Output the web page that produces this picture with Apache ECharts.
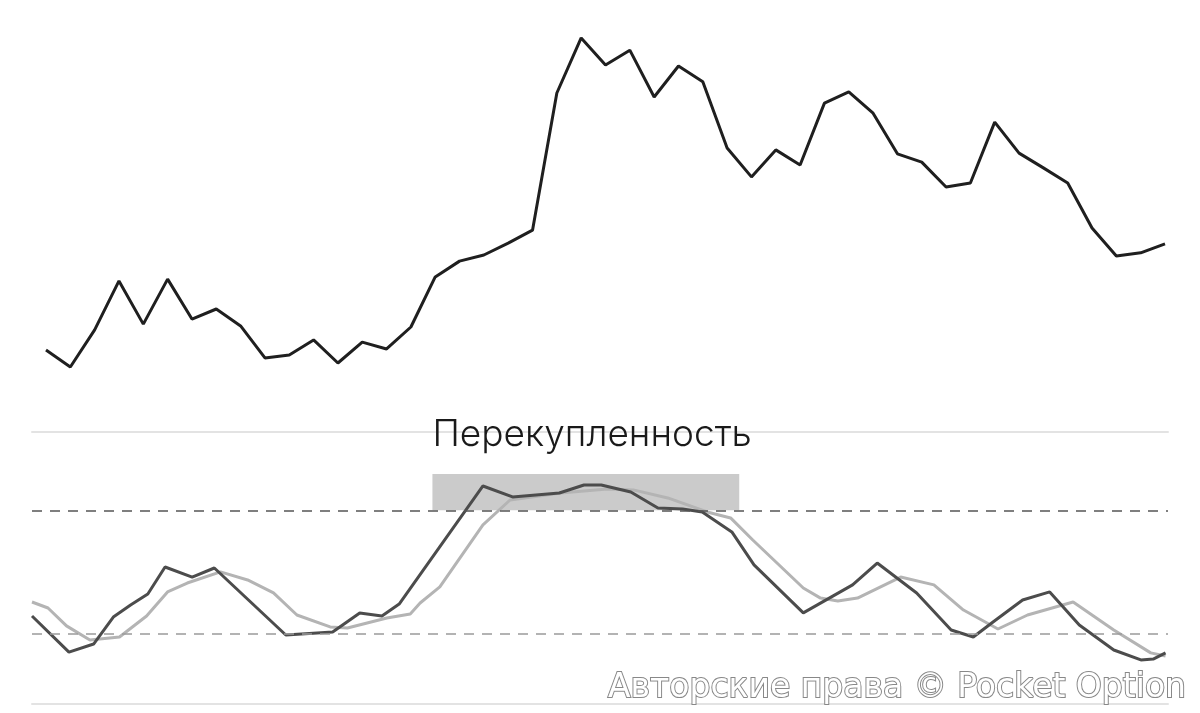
<!DOCTYPE html>
<html>
<head>
<meta charset="utf-8">
<script src="https://cdn.jsdelivr.net/npm/echarts@6/dist/echarts.min.js"></script>
<style>html,body{margin:0;padding:0;background:#fff}#c{width:1200px;height:713px}</style>
</head>
<body>
<div id="c"></div>
<script>
// Price (arbitrary units), one value per bar
const priceBars = Array.from({length: 47}, (_, i) => i);
const priceValues = [11.1, 6.4, 16.7, 30.3, 18.3, 30.8, 19.7, 22.5, 17.8, 8.9, 9.7, 13.9, 7.5, 13.3, 11.4, 17.5,
  31.4, 35.8, 37.5, 40.8, 44.4, 82.5, 97.8, 90.3, 94.4, 81.4, 90.0, 85.6, 67.2, 59.2, 66.7, 62.5,
  79.7, 82.8, 76.9, 65.6, 63.3, 56.4, 57.5, 74.4, 65.8, 61.7, 57.5, 45.0, 37.2, 38.1, 40.6];

// Stochastic %K (dark) — time in bars, value
const kTime = [0, 1.5, 2.5, 3.3, 4, 4.7, 5.4, 6.5, 7.4, 10.3, 12.2, 13.3, 14.2, 14.9, 18.3, 19.5, 21.4, 22.4, 23.1,
  24.3, 25.4, 26.4, 27.2, 28.4, 29.3, 31.3, 33.3, 34.3, 35.9, 37.3, 38.2, 39, 40.2, 41.3, 42.5, 43.9, 45, 45.5, 46];
const kValues = [28.7, 11.2, 15.1, 28.2, 34.0, 39.4, 52.5, 47.6, 52.0, 19.5, 20.9, 30.2, 28.7, 34.5, 91.8, 86.5, 88.4,
  92.3, 92.3, 88.9, 81.1, 80.6, 79.2, 69.5, 53.5, 30.2, 43.8, 54.4, 39.9, 21.9, 18.5, 25.8, 36.5, 40.4, 24.3, 12.2,
  7.4, 7.8, 10.8];

// Stochastic %D (light)
const dTime = [0, 0.65, 1.4, 2.35, 3.55, 4.65, 5.5, 6.3, 7.65, 8.75, 9.8, 10.75, 12.1, 12.8, 13.6, 14.4, 15.35, 15.75,
  16.55, 18.3, 19.4, 21.45, 23.35, 24.4, 25.8, 27.4, 28.35, 29.25, 31.3, 32, 32.7, 33.5, 35.25, 36.6, 37.8, 39.2,
  40.4, 42.25, 43.9, 45.4, 46];
const dValues = [35.5, 32.6, 23.9, 17.1, 18.5, 28.7, 40.4, 44.7, 50.1, 46.2, 39.9, 29.2, 23.4, 22.9, 25.3, 27.7, 29.7,
  35.0, 42.8, 72.9, 85.0, 88.4, 90.3, 89.9, 86.0, 79.2, 76.3, 65.6, 42.3, 37.4, 36.0, 37.4, 47.6, 43.8, 31.6, 22.4,
  29.2, 35.5, 21.9, 10.8, 9.3];

const overbought = 80;
const oversold = 20;
const zoneLabel = 'Перекупленность';
const zoneStart = 16.25, zoneEnd = 28.7, zoneTop = 97.6;
const watermark = 'Авторские права © Pocket Option';

const chart = echarts.init(document.getElementById('c'), null, {renderer: 'canvas'});
const frameAxis = (pos) => ({
  gridIndex: 1, type: 'value', min: 0, max: 46.1, position: pos,
  axisLine: {show: true, onZero: false, lineStyle: {color: '#e3e3e3', width: 2}},
  axisTick: {show: false}, axisLabel: {show: false}, splitLine: {show: false}
});
chart.setOption({
  animation: false,
  backgroundColor: '#ffffff',
  grid: [
    {left: 46, right: 35, top: 30, height: 360},
    {left: 32, right: 32, top: 432, height: 272}
  ],
  xAxis: [
    {gridIndex: 0, type: 'category', data: priceBars, boundaryGap: false, show: false},
    frameAxis('bottom'),
    frameAxis('top')
  ],
  yAxis: [
    {gridIndex: 0, type: 'value', min: 0, max: 100, show: false},
    {gridIndex: 1, type: 'value', min: -14, max: 118, show: false}
  ],
  series: [
    {
      type: 'line', xAxisIndex: 0, yAxisIndex: 0, data: priceValues,
      symbol: 'none', lineStyle: {color: '#1f1f1f', width: 3}, z: 3
    },
    {
      type: 'line', xAxisIndex: 1, yAxisIndex: 1, data: [], symbol: 'none', z: 1,
      markArea: {
        silent: true,
        itemStyle: {color: '#cbcbcb'},
        label: {
          show: true, position: [0, -58], formatter: zoneLabel,
          fontFamily: 'Inter', fontWeight: 300, fontSize: 37, color: '#1a1a1a'
        },
        data: [[{xAxis: zoneStart, yAxis: overbought}, {xAxis: zoneEnd, yAxis: zoneTop}]]
      },
      markLine: {
        silent: true, symbol: 'none', label: {show: false},
        data: [
          {yAxis: overbought, lineStyle: {color: '#555555', width: 1.6, type: [10, 8]}},
          {yAxis: oversold, lineStyle: {color: '#9a9a9a', width: 1.6, type: [10, 8]}}
        ]
      }
    },
    {
      type: 'line', xAxisIndex: 1, yAxisIndex: 1,
      data: dTime.map((t, i) => [t, dValues[i]]),
      symbol: 'none', lineStyle: {color: '#b4b4b4', width: 3}, z: 2
    },
    {
      type: 'line', xAxisIndex: 1, yAxisIndex: 1,
      data: kTime.map((t, i) => [t, kValues[i]]),
      symbol: 'none', lineStyle: {color: '#4c4c4c', width: 3}, z: 3
    }
  ],
  graphic: [{
    type: 'text', right: 13, top: 671, z: 100,
    style: {
      text: watermark, font: '33px "DejaVu Sans", Verdana, sans-serif',
      fill: '#ffffff', stroke: '#888888', lineWidth: 2
    }
  }]
});
</script>
</body>
</html>
